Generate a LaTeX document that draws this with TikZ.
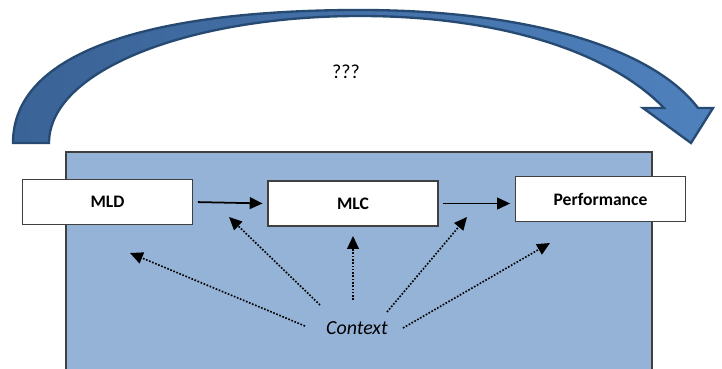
\documentclass[tikz,border=0pt]{standalone}
\usepackage{fontspec}
\setmainfont{Carlito}
\usetikzlibrary{arrows.meta}
\definecolor{settingblue}{HTML}{95B3D7}
\definecolor{boxline}{HTML}{404040}
\definecolor{bendlight}{HTML}{4F81BD}
\definecolor{benddark}{HTML}{3A6396}
\definecolor{bendline}{HTML}{274A73}
\tikzstyle{stage} =
  [ rectangle
  , draw=boxline
  , line width=1.2pt
  , fill=white
  , minimum width=5.1cm
  , minimum height=1.34cm
  , font=\fontsize{15}{18}\selectfont\bfseries
  ]
\tikzstyle{setting} =
  [ draw=boxline
  , line width=1.2pt
  , fill=settingblue
  ]
\tikzstyle{bend_arrow} =
  [ draw=bendline
  , line width=2pt
  , line join=miter
  , left color=benddark
  , right color=bendlight
  ]
\tikzstyle{flow} =
  [ ->
  , line width=1.5pt
  , shorten <=4pt
  , shorten >=4pt
  ]
\tikzstyle{influence} =
  [ ->
  , line width=1.4pt
  , dash pattern=on 1.4pt off 1.4pt
  ]
\def\ContextLabel{\fontsize{17}{20}\selectfont\itshape Context}
\def\UnknownLink{\fontsize{17}{20}\selectfont ???}

\begin{document}
\begin{tikzpicture}[x=0.03cm, y=-0.03cm, >={Triangle[length=11pt,width=10pt]}]
    \clip (0,0) rectangle (722,369);
    \fill[white] (0,0) rectangle (722,369);

    \draw[bend_arrow] (13,143) .. controls (13,45) and (170,10) .. (360,10)
        .. controls (520,10) and (650,45) .. (698,108) -- (713,108) -- (691,143) -- (643,108) -- (664,108)
        .. controls (610,52) and (500,16) .. (360,16)
        .. controls (190,16) and (49,70) .. (49,143) -- cycle;
    \node (unknown) at (346,72) {\UnknownLink};

    \draw[setting] (66,152) rectangle (652,390);

    \node[stage] (mld)         at (107.5,202)  {MLD};
    \node[stage] (mlc)         at (353,203.5)  {MLC};
    \node[stage] (performance) at (600.5,199)  {Performance};
    \draw[flow] (mld.east) -- (mlc.west);
    \draw[flow] (mlc.east) -- (mlc.east -| performance.west);

    \node (context) at (357,328) {\ContextLabel};
    \coordinate (ctx_a) at (305,326);
    \coordinate (ctx_b) at (320,305);
    \coordinate (ctx_c) at (353,300);
    \coordinate (ctx_d) at (387,312);
    \coordinate (ctx_e) at (403,328);
    \coordinate (below_mld)  at (130,253);
    \coordinate (near_mld)   at (229,217);
    \coordinate (below_mlc)  at (353,236);
    \coordinate (near_perf)  at (467,217);
    \coordinate (below_perf) at (550,243);
    \draw[influence] (ctx_a) -- (below_mld);
    \draw[influence] (ctx_b) -- (near_mld);
    \draw[influence] (ctx_c) -- (below_mlc);
    \draw[influence] (ctx_d) -- (near_perf);
    \draw[influence] (ctx_e) -- (below_perf);
\end{tikzpicture}
\end{document}
